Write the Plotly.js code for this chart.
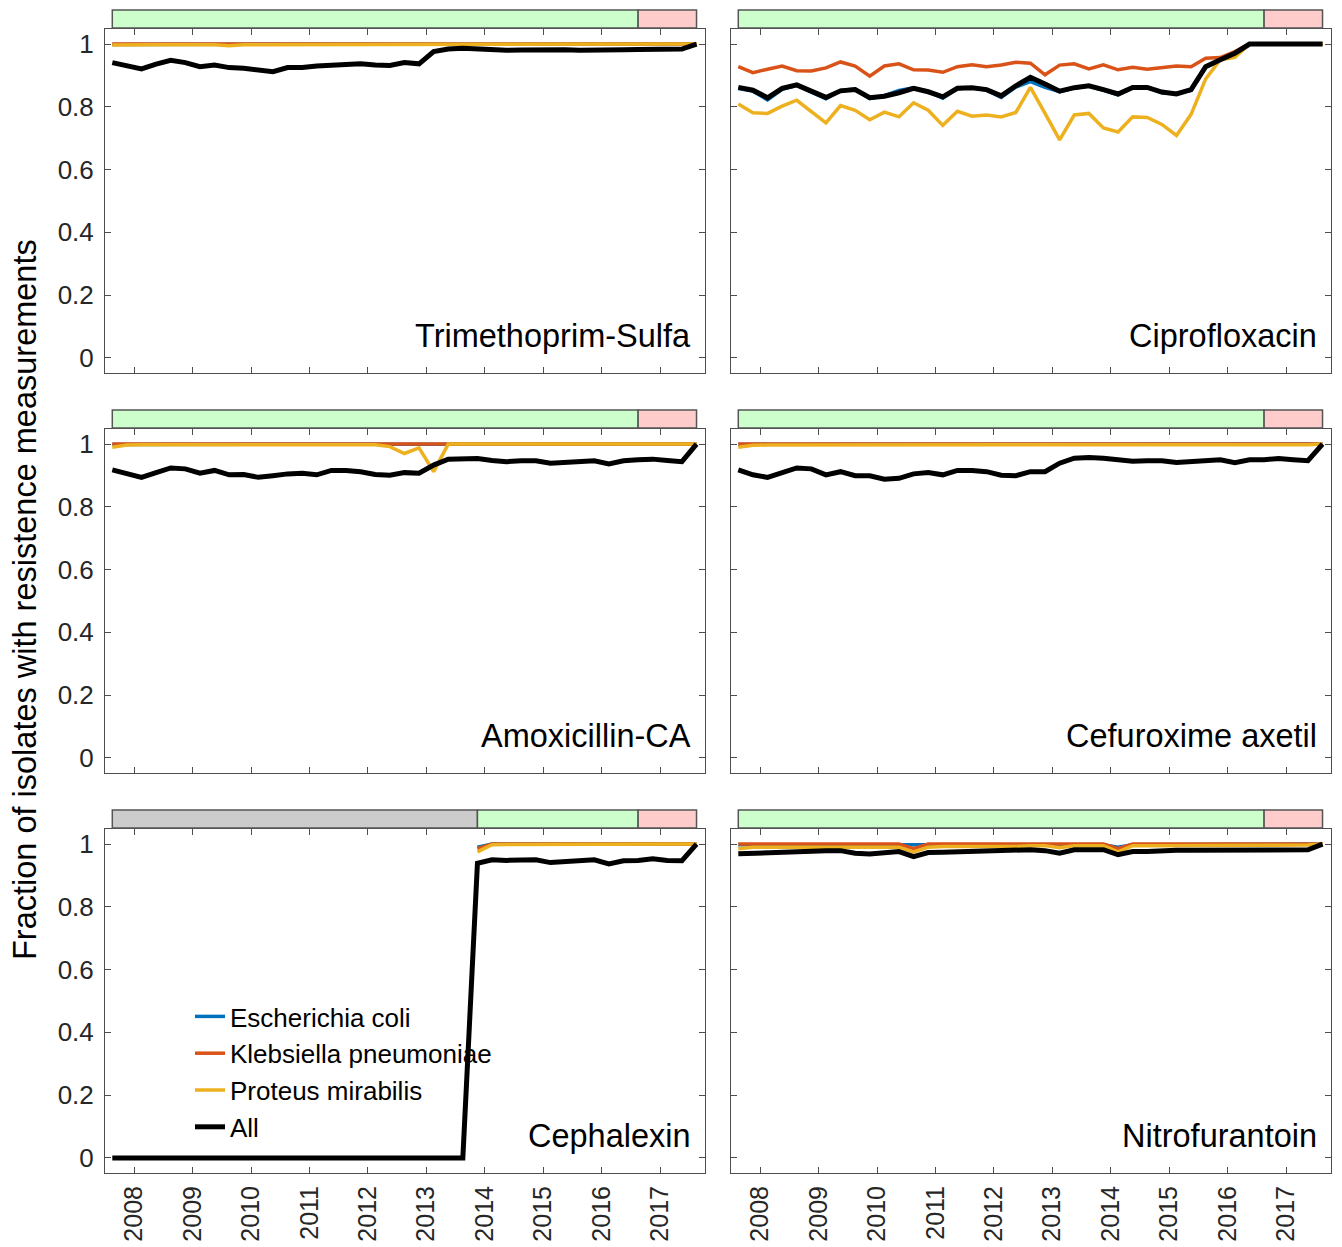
<!DOCTYPE html>
<html><head><meta charset="utf-8">
<script src="https://cdn.plot.ly/plotly-3.0.1.min.js"></script>
<style>html,body{margin:0;padding:0;background:#fff}</style>
</head><body><div id="chart" style="width:1342px;height:1247px"></div>
<script>
const quarters = [2007.625, 2007.875, 2008.125, 2008.375, 2008.625, 2008.875, 2009.125, 2009.375, 2009.625, 2009.875,
  2010.125, 2010.375, 2010.625, 2010.875, 2011.125, 2011.375, 2011.625, 2011.875, 2012.125, 2012.375,
  2012.625, 2012.875, 2013.125, 2013.375, 2013.625, 2013.875, 2014.125, 2014.375, 2014.625, 2014.875,
  2015.125, 2015.375, 2015.625, 2015.875, 2016.125, 2016.375, 2016.625, 2016.875, 2017.125, 2017.375, 2017.625];

const species = ['Escherichia coli', 'Klebsiella pneumoniae', 'Proteus mirabilis', 'All'];
const drugs = ['Trimethoprim-Sulfa', 'Ciprofloxacin', 'Amoxicillin-CA', 'Cefuroxime axetil', 'Cephalexin', 'Nitrofurantoin'];
const yearTicks = [2008, 2009, 2010, 2011, 2012, 2013, 2014, 2015, 2016, 2017];
const yTicks = [0, 0.2, 0.4, 0.6, 0.8, 1];

// Trimethoprim-Sulfa
const tmsEcoli = [0.999,0.999,0.999,0.999,0.999,0.999,0.999,0.999,0.999,0.999,0.999,0.999,0.999,0.999,0.999,0.999,0.999,0.999,0.999,0.999,0.999,0.999,0.999,0.999,0.999,0.999,0.999,0.999,0.999,0.999,0.999,0.999,0.999,0.999,0.999,0.999,0.999,0.999,0.999,0.999,1.0];
const tmsKpneu = [1,1,1,1,1,1,1,1,1,1,1,1,1,1,1,1,1,1,1,1,1,1,1,1,1,1,1,1,1,1,1,1,1,1,1,1,1,1,1,1,1];
const tmsPmir = [0.997,0.998,0.998,0.998,0.998,0.998,0.998,0.998,0.995,0.998,0.998,0.998,0.998,0.998,0.998,0.998,0.998,0.998,0.998,0.998,0.998,0.998,0.999,0.999,0.999,0.999,0.999,0.999,0.999,0.999,0.999,0.999,0.999,0.999,0.999,0.999,0.999,0.999,0.999,0.999,1.0];
const tmsAll = [0.941,0.933,0.921,0.936,0.948,0.941,0.928,0.933,0.925,0.923,0.916,0.912,0.925,0.925,0.930,0.932,0.937,0.937,0.933,0.932,0.941,0.937,0.976,0.984,0.987,0.984,0.982,0.980,0.981,0.982,0.983,0.982,0.980,0.982,0.982,0.982,0.983,0.984,0.984,0.984,1.0];

// Ciprofloxacin
const ciproEcoli = [0.858,0.850,0.822,0.856,0.868,0.846,0.826,0.852,0.857,0.826,0.836,0.852,0.861,0.849,0.827,0.858,0.861,0.853,0.830,0.863,0.880,0.862,0.848,0.860,0.866,0.853,0.838,0.861,0.861,0.845,0.843,0.852,0.928,0.950,0.971,1,1,1,1,1,1];
const ciproKpneu = [0.928,0.909,0.920,0.930,0.915,0.914,0.924,0.943,0.930,0.898,0.930,0.937,0.918,0.917,0.910,0.928,0.934,0.928,0.933,0.942,0.939,0.902,0.933,0.937,0.921,0.934,0.918,0.926,0.920,0.925,0.930,0.928,0.955,0.957,0.976,1,1,1,1,1,1];
const ciproPmir = [0.809,0.781,0.779,0.802,0.821,0.784,0.749,0.804,0.789,0.759,0.783,0.768,0.813,0.789,0.741,0.786,0.770,0.774,0.768,0.782,0.862,0.779,0.695,0.774,0.779,0.733,0.720,0.768,0.766,0.744,0.709,0.776,0.889,0.950,0.958,1,1,1,1,1,1];
const ciproAll = [0.862,0.853,0.829,0.859,0.870,0.848,0.830,0.851,0.855,0.829,0.834,0.845,0.859,0.848,0.832,0.859,0.861,0.855,0.835,0.867,0.894,0.873,0.850,0.861,0.867,0.855,0.841,0.862,0.862,0.847,0.841,0.855,0.928,0.950,0.971,1,1,1,1,1,1];

// Amoxicillin-CA
const amoxEcoli = [0.999,0.999,0.999,0.999,0.999,0.999,0.999,0.999,0.999,0.999,0.999,0.999,0.999,0.999,0.999,0.999,0.999,0.999,0.999,0.999,0.999,0.999,0.999,0.999,0.999,0.999,0.999,0.999,0.999,0.999,0.999,0.999,0.999,0.999,0.999,0.999,0.999,0.999,0.999,0.999,1.0];
const amoxKpneu = [1,1,1,1,1,1,1,1,1,1,1,1,1,1,1,1,1,1,1,1,1,1,1,1,1,1,1,1,1,1,1,1,1,1,1,1,1,1,1,1,1];
const amoxPmir = [0.990,0.997,0.998,0.998,0.998,0.998,0.998,0.998,0.996,0.998,0.998,0.998,0.998,0.998,0.998,0.998,0.998,0.998,0.998,0.992,0.970,0.988,0.912,1.0,1.0,1.0,1.0,1.0,1.0,1.0,1.0,1.0,1.0,1.0,1.0,1.0,1.0,1.0,1.0,1.0,1.0];
const amoxAll = [0.918,0.905,0.894,0.909,0.924,0.921,0.907,0.916,0.902,0.903,0.894,0.899,0.905,0.907,0.902,0.916,0.916,0.912,0.903,0.901,0.909,0.907,0.933,0.952,0.955,0.954,0.948,0.944,0.947,0.947,0.939,0.943,0.947,0.947,0.937,0.947,0.950,0.952,0.948,0.944,1.0];

// Cefuroxime axetil
const cefuEcoli = [0.999,0.999,0.999,0.999,0.999,0.999,0.999,0.999,0.999,0.999,0.999,0.999,0.999,0.999,0.999,0.999,0.999,0.999,0.999,0.999,0.999,0.999,0.999,0.999,0.999,0.999,0.999,0.999,0.999,0.999,0.999,0.999,0.999,0.999,0.999,0.999,0.999,0.999,0.999,0.999,1.0];
const cefuKpneu = [1,1,1,1,1,1,1,1,1,1,1,1,1,1,1,1,1,1,1,1,1,1,1,1,1,1,1,1,1,1,1,1,1,1,1,1,1,1,1,1,1];
const cefuPmir = [0.990,0.996,0.997,0.997,0.997,0.997,0.997,0.997,0.997,0.997,0.998,0.998,0.998,0.998,0.998,0.998,0.998,0.998,0.998,0.998,0.998,0.998,0.998,0.998,0.998,0.998,0.998,0.998,0.998,0.998,0.998,0.998,0.998,0.998,0.998,0.998,0.998,0.998,0.998,0.998,1.0];
const cefuAll = [0.918,0.902,0.894,0.909,0.924,0.921,0.902,0.912,0.899,0.899,0.888,0.891,0.905,0.909,0.902,0.916,0.916,0.912,0.901,0.899,0.912,0.912,0.939,0.955,0.957,0.955,0.948,0.945,0.947,0.947,0.941,0.944,0.948,0.950,0.941,0.950,0.950,0.954,0.950,0.947,1.0];

// Cephalexin
const cephEcoli = [null,null,null,null,null,null,null,null,null,null,null,null,null,null,null,null,null,null,null,null,null,null,null,null,null,0.990,1,1,1,1,1,1,1,1,1,1,1,1,1,1,1];
const cephKpneu = [null,null,null,null,null,null,null,null,null,null,null,null,null,null,null,null,null,null,null,null,null,null,null,null,null,0.985,1,1,1,1,1,1,1,1,1,1,1,1,1,1,1];
const cephPmir = [null,null,null,null,null,null,null,null,null,null,null,null,null,null,null,null,null,null,null,null,null,null,null,null,null,0.975,0.998,0.999,0.999,0.999,0.999,0.999,0.999,0.999,0.999,0.999,0.999,0.999,0.999,0.999,1.0];
const cephAll = [0,0,0,0,0,0,0,0,0,0,0,0,0,0,0,0,0,0,0,0,0,0,0,0,0,0.939,0.950,0.948,0.950,0.950,0.941,0.943,0.947,0.950,0.937,0.947,0.948,0.953,0.948,0.947,1.0];

// Nitrofurantoin
const nitroEcoli = [0.998,0.998,0.998,0.998,0.998,0.998,0.998,0.998,0.998,0.998,0.998,0.998,0.996,0.998,0.998,0.998,0.998,0.998,0.998,0.998,0.998,0.998,0.993,0.998,0.998,0.998,0.990,0.998,0.998,0.998,0.998,0.998,0.998,0.998,0.998,0.998,0.998,0.998,0.998,0.998,1.0];
const nitroKpneu = [1,1,1,1,1,1,1,1,1,1,1,1,0.985,1,1,1,1,1,1,1,1,1,1,1,1,1,0.985,1,1,1,1,1,1,1,1,1,1,1,1,1,1];
const nitroPmir = [0.985,0.990,0.990,0.990,0.990,0.990,0.990,0.990,0.990,0.990,0.990,0.990,0.975,0.990,0.992,0.992,0.992,0.992,0.992,0.992,0.995,0.995,0.988,0.995,0.995,0.995,0.975,0.995,0.995,0.995,0.996,0.996,0.996,0.996,0.997,0.997,0.997,0.997,0.997,0.997,1.0];
const nitroAll = [0.969,0.971,0.973,0.974,0.976,0.976,0.979,0.979,0.971,0.968,0.971,0.976,0.960,0.973,0.974,0.975,0.975,0.976,0.976,0.979,0.982,0.979,0.971,0.982,0.982,0.982,0.966,0.976,0.976,0.979,0.980,0.980,0.980,0.980,0.982,0.982,0.982,0.982,0.982,0.982,1.0];

// Study periods shown in the strips above each panel
const phaseStart = [2007.625, 2016.625];
const phaseEnd = [2016.625, 2017.625];
const phaseKind = ['train', 'test'];
const cephPhaseStart = [2007.625, 2013.875, 2016.625];
const cephPhaseEnd = [2013.875, 2016.625, 2017.625];
const cephPhaseKind = ['none', 'train', 'test'];

const panelSeries = [
  [tmsEcoli, tmsKpneu, tmsPmir, tmsAll],
  [ciproEcoli, ciproKpneu, ciproPmir, ciproAll],
  [amoxEcoli, amoxKpneu, amoxPmir, amoxAll],
  [cefuEcoli, cefuKpneu, cefuPmir, cefuAll],
  [cephEcoli, cephKpneu, cephPmir, cephAll],
  [nitroEcoli, nitroKpneu, nitroPmir, nitroAll]
];
const panelPhases = [
  [phaseStart, phaseEnd, phaseKind], [phaseStart, phaseEnd, phaseKind],
  [phaseStart, phaseEnd, phaseKind], [phaseStart, phaseEnd, phaseKind],
  [cephPhaseStart, cephPhaseEnd, cephPhaseKind], [phaseStart, phaseEnd, phaseKind]
];

const W = 1342, H = 1247;
const colors = ['#0072BD', '#D95319', '#EDB120', '#000000'];
const widths = [3.5, 3.5, 3.5, 5];
const phaseFill = {train: '#CCFFCC', test: '#FFCCCC', none: '#CCCCCC'};
const colPx = [[105, 705], [731, 1331]];
const rowPx = [[29, 373], [429, 773], [829, 1173]];
const FONT = '"Liberation Sans", Arial, Helvetica, sans-serif';
const TXT = '#262626';
const AX = '#4d4d4d';

const traces = [];
const layout = {
  width: W, height: H, margin: {l: 0, r: 0, t: 0, b: 0},
  paper_bgcolor: '#fff', plot_bgcolor: '#fff',
  font: {family: FONT, color: TXT, size: 25},
  showlegend: true,
  legend: {x: 190 / W, y: 1 - 993 / H, xanchor: 'left', yanchor: 'top',
           bgcolor: 'rgba(0,0,0,0)', borderwidth: 0, font: {size: 26, family: FONT, color: '#000'},
           tracegroupgap: 0},
  shapes: [], annotations: []
};

for (let p = 0; p < 6; p++) {
  const row = Math.floor(p / 2), col = p % 2;
  const sfx = p === 0 ? '' : String(p + 1);
  const xa = 'x' + sfx, ya = 'y' + sfx;
  for (let s = 0; s < 4; s++) {
    traces.push({
      type: 'scatter', mode: 'lines', x: quarters, y: panelSeries[p][s],
      name: species[s], xaxis: xa, yaxis: ya,
      line: {color: colors[s], width: widths[s]},
      showlegend: p === 4, legendgroup: species[s], connectgaps: false,
      hoverinfo: 'skip'
    });
  }
  const [c0, c1] = colPx[col], [r0, r1] = rowPx[row];
  layout['xaxis' + sfx] = {
    domain: [c0 / W, c1 / W], anchor: ya, range: [2007.5, 2017.77],
    tickvals: yearTicks, ticktext: yearTicks.map(String),
    showticklabels: row === 2, tickangle: -90,
    ticks: 'inside', ticklen: 6, tickcolor: AX, tickwidth: 1,
    showline: true, linecolor: AX, linewidth: 1, mirror: 'ticks',
    showgrid: false, zeroline: false, ticklabelstandoff: 2,
    tickfont: {size: 25, family: FONT, color: TXT}
  };
  layout['yaxis' + sfx] = {
    domain: [1 - r1 / H, 1 - r0 / H], anchor: xa, range: [-0.048, 1.048],
    tickvals: yTicks, ticktext: yTicks.map(String),
    showticklabels: col === 0,
    ticks: 'inside', ticklen: 6, tickcolor: AX, tickwidth: 1,
    showline: true, linecolor: AX, linewidth: 1, mirror: 'ticks',
    showgrid: false, zeroline: false, ticklabelstandoff: 5,
    tickfont: {size: 26, family: FONT, color: TXT}
  };
  const [ps, pe, pk] = panelPhases[p];
  for (let k = 0; k < ps.length; k++) {
    layout.shapes.push({
      type: 'rect', xref: xa, yref: 'paper',
      x0: ps[k], x1: pe[k], y0: 1 - (r0 - 1) / H, y1: 1 - (r0 - 19) / H,
      fillcolor: phaseFill[pk[k]], line: {color: '#555555', width: 1.5}, layer: 'above'
    });
  }
  layout.annotations.push({
    text: drugs[p], xref: xa + ' domain', yref: ya + ' domain',
    x: 0.98, y: 0.05, xanchor: 'right', yanchor: 'bottom', showarrow: false,
    font: {size: 32.5, family: FONT, color: '#000'}
  });
}
layout.annotations.push({
  text: 'Fraction of isolates with resistence measurements',
  xref: 'paper', yref: 'paper', x: 25 / W, y: 1 - 600 / H,
  xanchor: 'center', yanchor: 'middle', textangle: -90, showarrow: false,
  font: {size: 32.5, family: FONT, color: '#000'}
});

Plotly.newPlot('chart', traces, layout, {staticPlot: true, displayModeBar: false});
</script></body></html>
